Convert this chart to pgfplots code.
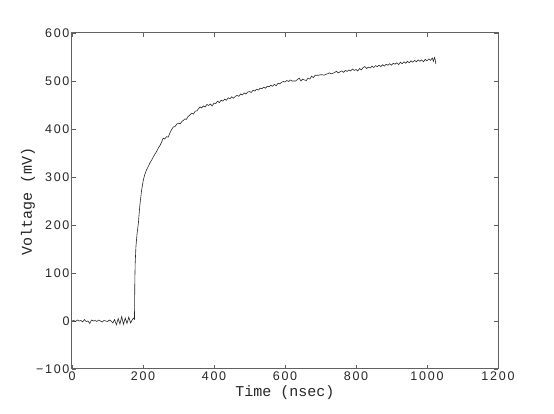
\documentclass[border=0pt]{standalone}
\usepackage{fontspec}
\setmainfont{Liberation Sans}
\newfontfamily\tickfont[LetterSpace=14]{Liberation Sans}
\newfontfamily\labfont{Liberation Mono}
\usepackage{pgfplots}
\pgfplotsset{compat=1.18}
\definecolor{frame}{rgb}{0.38,0.38,0.38}

\begin{document}
\begin{tikzpicture}
\useasboundingbox (-72pt,-45pt) rectangle (482pt,369pt);
\begin{axis}[
    scale only axis,
    width=426pt, height=336pt,
    xmin=0, xmax=1200,
    ymin=-100, ymax=600,
    xtick={0,200,...,1200},
    ytick={-100,0,...,600},
    yticklabels={−100,0,100,200,300,400,500,600},
    tick align=inside,
    major tick length=4pt,
    tick style={frame, line width=0.6pt},
    axis line style={frame, line width=1pt},
    ticklabel style={font=\fontsize{12.5}{14}\tickfont, text=black!85},
    /pgf/number format/assume math mode=true,
    /pgf/number format/1000 sep={},
    xticklabel style={yshift=1pt},
    yticklabel style={xshift=1pt},
    every axis x label/.style={at={(axis description cs:0.5,0)}, anchor=center, yshift=-24pt},
    every axis y label/.style={at={(axis description cs:0,0.5)}, anchor=center, rotate=90, yshift=44pt},
    label style={font=\fontsize{15}{16}\labfont, text=black!85},
    xlabel={Time (nsec)},
    ylabel={Voltage (mV)},
]
\addplot[black!85, line width=0.6pt] coordinates {
(0,0)(5,1)(10,-1)(15,2)(20,0)(25,1)(30,-2)(35,3)(40,-1)(45,0)(50,-5)(55,2)(60,0)(65,1)
(70,-1)(75,2)(80,0)(85,-2)(90,1)(95,0)(100,-1)(105,2)(110,0)(115,-4)(120,3)(125,-8)
(130,5)(135,-6)(140,9)(145,-7)(150,6)(155,-5)(160,8)(165,-4)(170,3)(174,6)(176,4)
(177,85)(178,120)(180,154)(183,180)(187,204)(191,240)(196,272)(201,294)(205,305)
(210,315)(215,322)(220,330)(225,336)(229,342)(234,348)(239,354)(243,360)(248,366)
(252,372)(257,381)(261,379)(266,384)(271,383)(276,392)(280,398)(285,404)(290,405)
(295,410)(300,412)(305,411)(310,416)(314,418)(318,421)(322,420)(327,426)(332,429)
(337,433)(342,431)(347,437)(352,438)(356,442)(361,446)(365,444)(370,448)(375,446)
(380,451)(385,449)(390,452)(395,448)(400,454)(405,453)(410,458)(415,455)(420,460)
(425,458)(430,462)(435,460)(440,465)(445,463)(450,467)(455,464)(460,468)(465,470)
(470,468)(475,473)(480,471)(485,475)(490,473)(495,477)(500,478)(505,476)(510,481)
(515,479)(520,483)(525,481)(530,485)(535,484)(540,487)(545,485)(550,489)(555,488)
(560,491)(565,489)(570,493)(575,490)(580,495)(585,494)(590,497)(595,499)(600,498)
(605,501)(610,499)(615,502)(620,500)(625,500)(630,500)(635,503)(640,506)(645,500)
(650,504)(655,502)(660,501)(665,506)(670,504)(675,510)(680,507)(685,512)(690,512)
(695,512)(700,513)(705,513)(710,512)(715,514)(720,515)(725,517)(730,515)(735,516)
(740,518)(745,520)(750,517)(755,519)(760,521)(765,518)(770,522)(775,520)(780,523)
(785,521)(790,525)(795,522)(800,524)(805,521)(810,526)(815,523)(820,528)(825,530)
(830,526)(835,529)(840,527)(845,531)(850,528)(855,532)(860,530)(865,533)(870,530)
(875,534)(880,531)(885,535)(890,533)(895,536)(900,533)(905,537)(910,535)(915,538)
(920,534)(925,539)(930,536)(935,540)(940,537)(945,541)(950,538)(955,542)(960,539)
(965,543)(970,540)(975,544)(980,541)(985,544)(990,540)(995,545)(1000,542)(1005,546)
(1010,543)(1015,548)(1018,541)(1021,549)(1023,545)(1025,535)
};
\end{axis}
\end{tikzpicture}
\end{document}
